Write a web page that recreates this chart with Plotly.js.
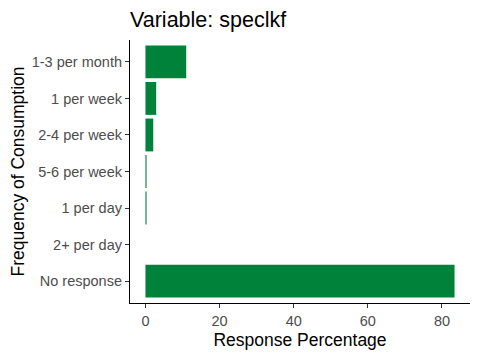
<!DOCTYPE html>
<html>
<head>
<meta charset="utf-8">
<script src="https://cdn.plot.ly/plotly-3.0.1.min.js"></script>
<style>html,body{margin:0;padding:0;background:#fff;}#chart{width:480px;height:360px;}</style>
</head>
<body>
<div id="chart"></div>
<script>
var categories = ["1-3 per month", "1 per week", "2-4 per week", "5-6 per week", "1 per day", "2+ per day", "No response"];
var percentages = [11.0, 2.9, 2.1, 0.3, 0.3, 0, 83.4];
var xTicks = [0, 20, 40, 60, 80];

var trace = {
  type: "bar",
  orientation: "h",
  y: categories,
  x: percentages,
  width: 0.9,
  marker: {color: "#00823A", line: {width: 0}},
  hoverinfo: "x+y"
};

var layout = {
  width: 480,
  height: 360,
  margin: {l: 129.5, r: 10, t: 40, b: 57},
  paper_bgcolor: "#ffffff",
  plot_bgcolor: "#ffffff",
  font: {family: "Liberation Sans, Arial, sans-serif", color: "#4d4d4d"},
  title: {
    text: "Variable: speclkf",
    font: {size: 21.5, color: "#000000", family: "Liberation Sans, Arial, sans-serif"},
    x: 0, xref: "paper", xanchor: "left",
    y: 1 - 19/360, yref: "container", yanchor: "middle"
  },
  xaxis: {
    range: [-4.17, 87.57],
    tickvals: xTicks,
    ticktext: xTicks.map(String),
    showgrid: false,
    zeroline: false,
    showline: true,
    linecolor: "#000000",
    linewidth: 1.1,
    ticks: "outside",
    ticklen: 4,
    tickcolor: "#333333",
    tickfont: {size: 14.5, color: "#4d4d4d"},
    title: {text: "Response Percentage", font: {size: 17.5, color: "#000000"}, standoff: 6}
  },
  yaxis: {
    type: "category",
    categoryorder: "array",
    categoryarray: categories.slice().reverse(),
    range: [-0.6, 6.6],
    showgrid: false,
    zeroline: false,
    showline: true,
    linecolor: "#000000",
    linewidth: 1.1,
    ticks: "outside",
    ticklen: 4,
    tickcolor: "#333333",
    tickfont: {size: 14.5, color: "#4d4d4d"},
    title: {text: "Frequency of Consumption", font: {size: 17.5, color: "#000000"}, standoff: 2}
  },
  showlegend: false,
  bargap: 0.1
};

Plotly.newPlot("chart", [trace], layout, {displayModeBar: false, staticPlot: true});
</script>
</body>
</html>
